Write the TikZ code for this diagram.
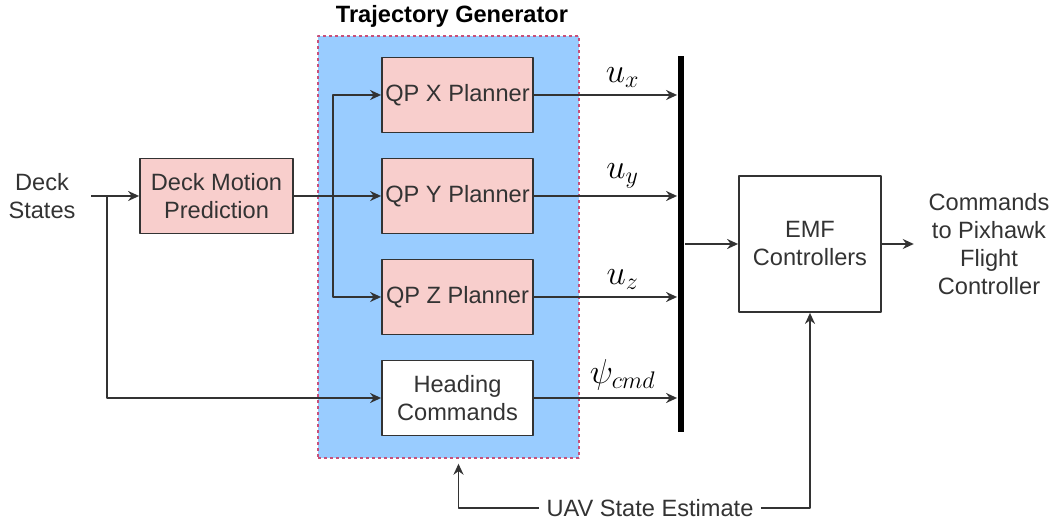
\documentclass[tikz,border=0pt]{standalone}
\usepackage{fontspec}
\setmainfont{Liberation Sans}
\usetikzlibrary{positioning,arrows.meta}
\definecolor{tgblue}{HTML}{99CCFF}
\definecolor{tgred}{HTML}{C8507A}
\definecolor{plpink}{HTML}{F8CECC}
\definecolor{ln}{HTML}{333333}
\begin{document}
\begin{tikzpicture}[line join=round,>={Stealth[length=5.5pt,width=5pt]},x=0.5pt,y=-0.5pt,line width=0.9pt,draw=ln]
		\tikzset{every node/.style={font=\fontsize{11.8}{14}\selectfont,text=ln},
			blk/.style={draw=ln,minimum width=75.5pt,minimum height=37.5pt,align=center,inner sep=1pt},
			pinkblk/.style={blk,fill=plpink},
			sig/.style={font=\fontsize{16.5}{18}\selectfont,above,text=black}}
		\useasboundingbox (0,0) rectangle (1055,523);
		\node[fill=tgblue,draw=tgred,dash pattern=on 1.5pt off 1.5pt,line width=0.7pt,minimum width=130.5pt,minimum height=211pt] (tg) at (448.5,247) {};
		\node[font=\fontsize{11.8}{14}\selectfont\bfseries,text=black] (tgtitle) at (452,16) {Trajectory Generator};
		\foreach \n/\t/\y in {qpx/X/95,qpy/Y/196,qpz/Z/297}
		\node[pinkblk] (\n) at (457.5,\y) {QP \t\ Planner};
		\node[blk,fill=white] (hdg) at (457.5,398) {Heading\\Commands};
		\node[pinkblk,minimum width=76.5pt] (dmp) at (216.5,196) {Deck Motion\\Prediction};
		\node[align=center,inner xsep=7.5pt] (ds) at (42,196) {Deck\\States};
		\node[blk,minimum width=71pt,minimum height=68pt] (emf) at (810,244) {EMF\\Controllers};
		\node[align=center,inner xsep=7pt] (cmd) at (989,244) {Commands\\to Pixhawk\\Flight\\Controller};
		\node (uav) at (650,508) {UAV State Estimate};
		\node[fill=black,minimum width=3pt,minimum height=188pt,inner sep=0pt] (bus) at (681,244) {};
		%Các nhánh tín hiệu
		\coordinate (dsfork) at (107,196);
		\coordinate (dmfork) at (333,196);
		\draw[->] (ds.east) -- (dmp.west);
		\draw[->] (dsfork) |- (hdg.west);
		\draw[->] (dmp.east) -- (qpy.west);
		\draw[->] (dmfork) |- (qpx.west);
		\draw[->] (dmfork) |- (qpz.west);
		\foreach \n/\s in {qpx/u_x,qpy/u_y,qpz/u_z,hdg/\psi_{cmd}}
		\draw[->] (\n.east) -- (bus.west |- \n.east) node[sig,pos=0.62] {$\s$};
		\draw[->] (bus.east |- emf.west) -- (emf.west);
		\draw[->] (emf.east) -- (cmd.west);
		\draw[->] (uav.east) -| (emf.south);
		\draw[->,shorten >=2.5pt] (uav.west) -| ([xshift=5pt]tg.south);
\end{tikzpicture}
\end{document}
